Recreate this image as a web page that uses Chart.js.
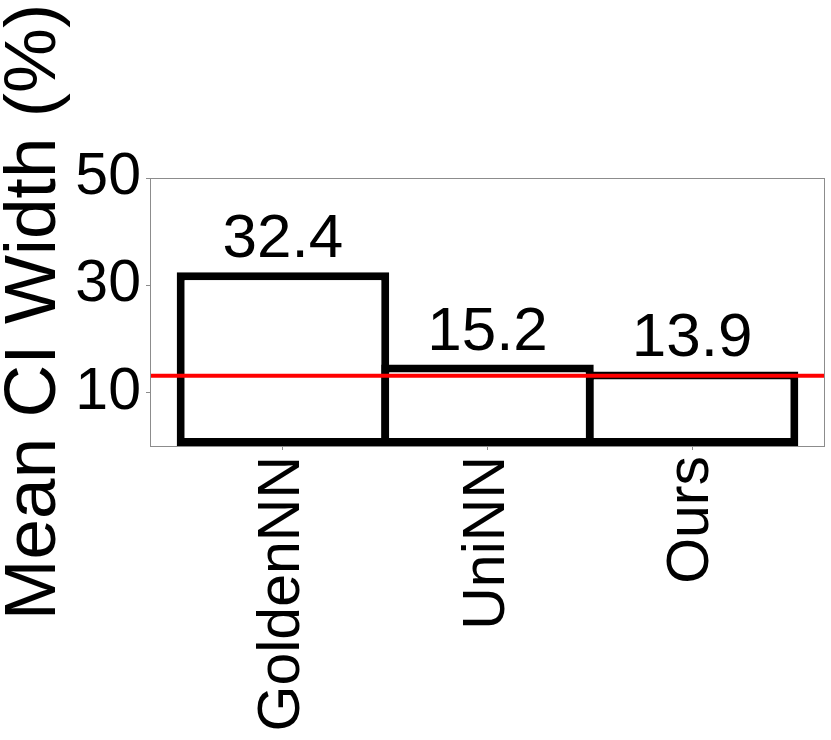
<!DOCTYPE html>
<html>
<head>
<meta charset="utf-8">
<script src="https://cdn.jsdelivr.net/npm/chart.js@4/dist/chart.umd.min.js"></script>
<style>
  html, body { margin: 0; padding: 0; background: #fff; }
  #wrap { width: 831px; height: 740px; }
</style>
</head>
<body>
<div id="wrap"><canvas id="chart"></canvas></div>
<script>
// data
const methods = ['GoldenNN', 'UniNN', 'Ours'];
const ciWidth = [32.4, 15.2, 13.9];
const refLine = 13.1;
const yTicks = [10, 30, 50];

const FONT = '"Liberation Sans", Arial, sans-serif';
const xMin = -0.65, xMax = 2.65;

// value labels above the bars
const barLabels = {
  id: 'barLabels',
  afterDatasetsDraw(chart) {
    const ctx = chart.ctx;
    const meta = chart.getDatasetMeta(1);
    ctx.save();
    ctx.fillStyle = '#000';
    ctx.font = '62px ' + FONT;
    ctx.textAlign = 'center';
    ctx.textBaseline = 'alphabetic';
    meta.data.forEach((bar, i) => {
      ctx.fillText(ciWidth[i].toFixed(1), bar.x, bar.y - 15);
    });
    ctx.restore();
  }
};

// grey box round the plot area
const frame = {
  id: 'frame',
  afterDraw(chart) {
    const { ctx, chartArea: a } = chart;
    ctx.save();
    ctx.strokeStyle = '#8c8c8c';
    ctx.lineWidth = 1;
    ctx.strokeRect(a.left + 0.5, a.top + 0.5, a.right - a.left - 1, a.bottom - a.top);
    ctx.restore();
  }
};

new Chart(document.getElementById('chart'), {
  type: 'bar',
  data: {
    datasets: [
      {
        type: 'line',
        data: [{ x: xMin, y: refLine }, { x: xMax, y: refLine }],
        borderColor: '#ff0000',
        borderWidth: 4,
        pointRadius: 0,
        order: 0
      },
      {
        data: methods.map((m, i) => ({ x: i, y: ciWidth[i] })),
        backgroundColor: '#ffffff',
        borderColor: '#000000',
        borderWidth: 8,
        borderSkipped: false,
        categoryPercentage: 1,
        barPercentage: 1.039,
        order: 1
      }
    ]
  },
  options: {
    responsive: true,
    maintainAspectRatio: false,
    animation: false,
    layout: { padding: { left: 0, top: 178, right: 6, bottom: 0 } },
    plugins: { legend: { display: false }, tooltip: { enabled: false } },
    scales: {
      x: {
        type: 'linear',
        min: xMin,
        max: xMax,
        offset: false,
        afterBuildTicks(scale) {
          scale.ticks = methods.map((m, i) => ({ value: i }));
        },
        afterFit(scale) { scale.height = 294; },
        ticks: {
          autoSkip: false,
          minRotation: 90,
          maxRotation: 90,
          padding: 6,
          color: '#000',
          font: { family: FONT, size: 59 },
          callback: (v) => methods[v]
        },
        grid: { offset: false, drawOnChartArea: false, drawTicks: true, tickLength: 4, color: '#8c8c8c' },
        border: { display: false }
      },
      y: {
        min: 0,
        max: 50,
        afterBuildTicks(scale) {
          scale.ticks = yTicks.map(v => ({ value: v }));
        },
        afterFit(scale) { scale.width = 150; },
        ticks: {
          padding: 5,
          color: '#000',
          font: { family: FONT, size: 59 }
        },
        grid: { drawOnChartArea: false, drawTicks: true, tickLength: 4, color: '#8c8c8c' },
        border: { display: false },
        title: {
          display: true,
          text: 'Mean CI Width (%)',
          color: '#000',
          padding: 0,
          font: { family: FONT, size: 73, lineHeight: 0.96 }
        }
      }
    }
  },
  plugins: [barLabels, frame]
});
</script>
</body>
</html>
